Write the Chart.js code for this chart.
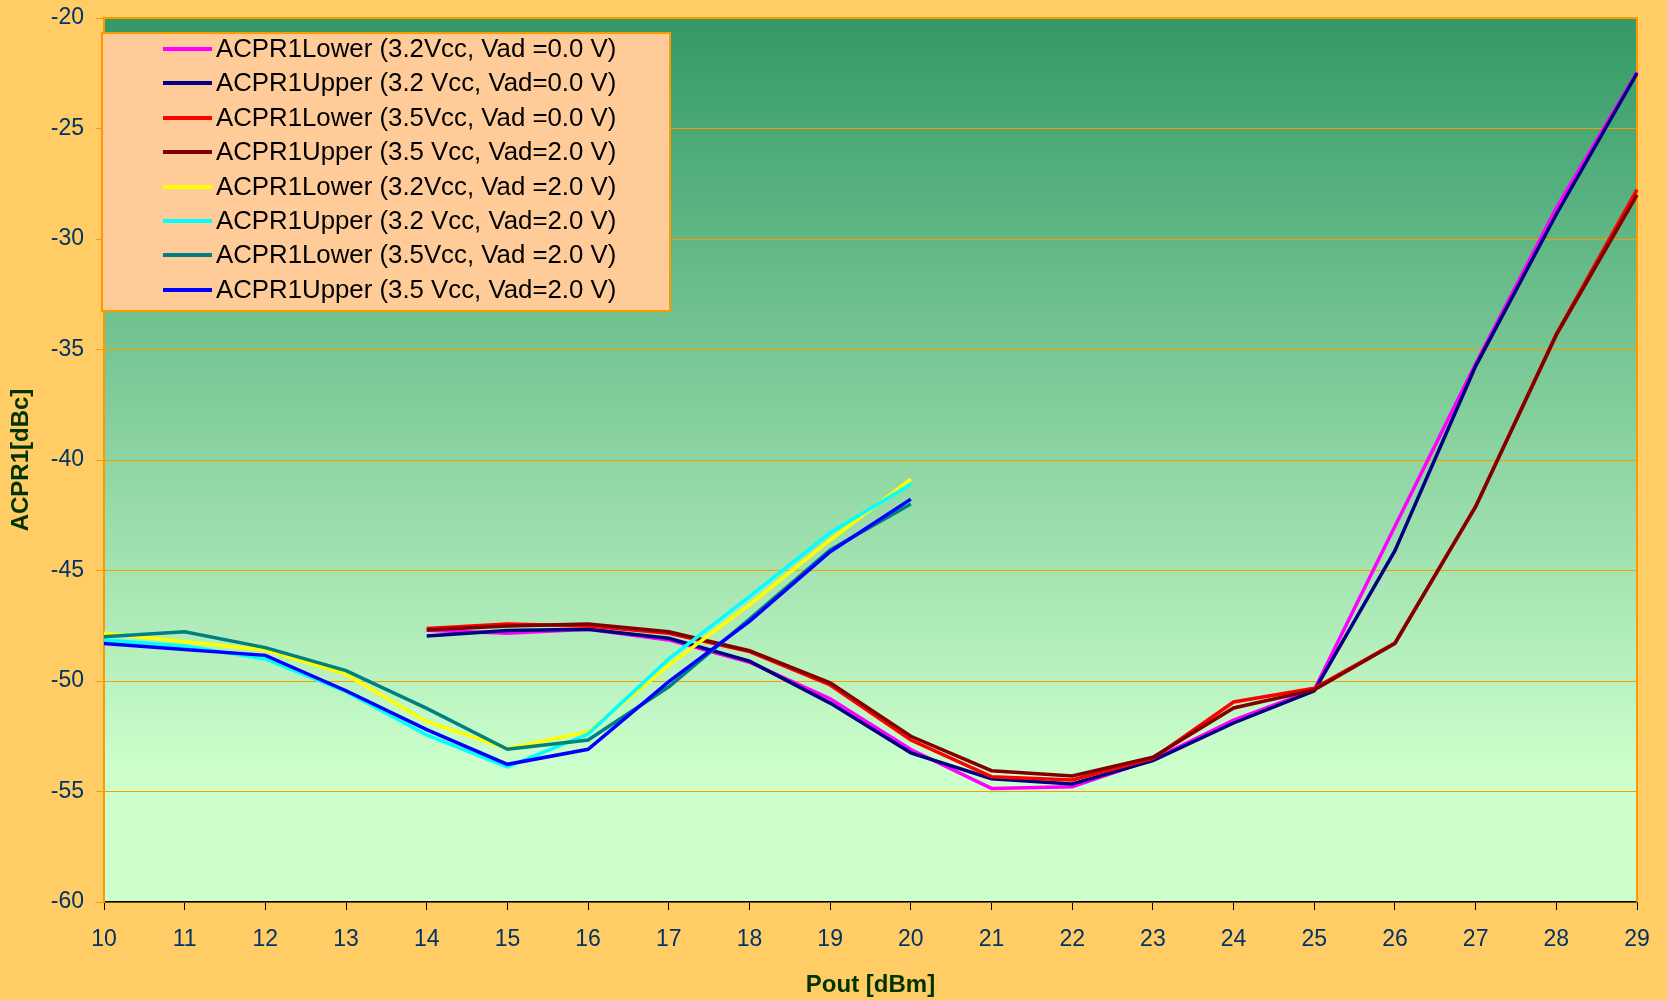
<!DOCTYPE html>
<html>
<head>
<meta charset="utf-8">
<title>ACPR1 vs Pout</title>
<script src="https://cdn.jsdelivr.net/npm/chart.js@4"></script>
<style>
  html, body { margin: 0; padding: 0; background: #ffcc66; }
  #wrap { position: relative; width: 1667px; height: 1000px; }
  #legend {
    position: absolute; left: 101px; top: 32px; width: 566px; height: 276px;
    background: #ffcc99; border: 2px solid #ff9900;
    font-family: "Liberation Sans", Arial, sans-serif; font-size: 25.8px; color: #000;
  }
  .row { position: relative; height: 34.4px; }
  .row:first-child { margin-top: -3px; }
  .row .swatch { position: absolute; left: 60px; top: 16px; width: 49px; height: 4px; }
  .row .txt { position: absolute; left: 113px; top: 0; line-height: 34.4px; white-space: nowrap; }
</style>
</head>
<body>
<div id="wrap">
  <canvas id="acprChart" width="1667" height="1000"></canvas>
  <div id="legend"></div>
</div>
<script>
const pout = [10, 11, 12, 13, 14, 15, 16, 17, 18, 19, 20, 21, 22, 23, 24, 25, 26, 27, 28, 29];

const seriesNames = [
  "ACPR1Lower (3.2Vcc, Vad =0.0 V)",
  "ACPR1Upper (3.2 Vcc, Vad=0.0 V)",
  "ACPR1Lower (3.5Vcc, Vad =0.0 V)",
  "ACPR1Upper (3.5 Vcc, Vad=2.0 V)",
  "ACPR1Lower (3.2Vcc, Vad =2.0 V)",
  "ACPR1Upper (3.2 Vcc, Vad=2.0 V)",
  "ACPR1Lower (3.5Vcc, Vad =2.0 V)",
  "ACPR1Upper (3.5 Vcc, Vad=2.0 V)",
];
const seriesColors = ["#ff00ff", "#000080", "#ff0000", "#800000", "#ffff00", "#00ffff", "#008080", "#0000ff"];

// Pout 10..29, null where not measured
const lower32Vad0 = [null, null, null, null, -47.7, -47.84, -47.66, -48.14, -49.15, -50.8, -53.1, -54.86, -54.78, -53.55, -51.77, -50.4, -43.0, -35.65, -28.6, -22.45];
const upper32Vad0 = [null, null, null, null, -47.96, -47.72, -47.66, -48.07, -49.1, -51.0, -53.25, -54.42, -54.66, -53.6, -51.9, -50.45, -44.1, -35.75, -28.88, -22.5];
const lower35Vad0 = [null, null, null, null, -47.62, -47.42, -47.51, -47.84, -48.67, -50.18, -52.67, -54.33, -54.48, -53.5, -50.95, -50.33, -48.28, -42.1, -34.3, -27.77];
const upper35Vad2b = [null, null, null, null, -47.69, -47.51, -47.42, -47.77, -48.63, -50.08, -52.5, -54.06, -54.3, -53.45, -51.22, -50.4, -48.3, -42.11, -34.34, -28.0];
const lower32Vad2 = [-47.84, -48.22, -48.6, -49.7, -51.84, -53.05, -52.3, -49.28, -46.56, -43.62, -40.87, null, null, null, null, null, null, null, null, null];
const upper32Vad2 = [-48.14, -48.42, -49.0, -50.48, -52.44, -53.88, -52.4, -49.0, -46.18, -43.29, -41.1, null, null, null, null, null, null, null, null, null];
const lower35Vad2 = [-48.0, -47.77, -48.49, -49.53, -51.24, -53.09, -52.67, -50.26, -47.2, -44.07, -41.99, null, null, null, null, null, null, null, null, null];
const upper35Vad2 = [-48.3, -48.57, -48.84, -50.44, -52.2, -53.77, -53.09, -50.03, -47.3, -44.15, -41.77, null, null, null, null, null, null, null, null, null];

const seriesValues = [lower32Vad0, upper32Vad0, lower35Vad0, upper35Vad2b, lower32Vad2, upper32Vad2, lower35Vad2, upper35Vad2];

const FONT = "'Liberation Sans', Arial, sans-serif";

// gradient plot background plus orange frame, like the spreadsheet original
const plotBackground = {
  id: "plotBackground",
  beforeDraw(chart) {
    const { ctx, chartArea: a } = chart;
    const grad = ctx.createLinearGradient(0, a.top, 0, a.bottom);
    grad.addColorStop(0, "#339966");
    grad.addColorStop(0.85, "#ccffcc");
    grad.addColorStop(1, "#ccffcc");
    ctx.save();
    ctx.fillStyle = grad;
    ctx.fillRect(a.left, a.top, a.right - a.left, a.bottom - a.top);
    ctx.restore();
  },
  beforeDatasetsDraw(chart) {
    const { ctx, chartArea: a } = chart;
    ctx.save();
    ctx.strokeStyle = "#ff9900";
    ctx.lineWidth = 2;
    ctx.beginPath();
    ctx.moveTo(a.left, a.top);
    ctx.lineTo(a.right, a.top);
    ctx.lineTo(a.right, a.bottom);
    ctx.stroke();
    ctx.restore();
  },
};

function renderLegend(chart) {
  const box = document.getElementById("legend");
  box.innerHTML = chart.data.datasets
    .map(
      (ds) => `
    <div class="row">
      <span class="swatch" style="background:${ds.borderColor}"></span>
      <span class="txt">${ds.label}</span>
    </div>`
    )
    .join("");
}

const chart = new Chart(document.getElementById("acprChart"), {
  type: "line",
  data: {
    labels: pout,
    datasets: seriesNames.map((name, i) => ({
      label: name,
      data: seriesValues[i],
      borderColor: seriesColors[i],
      backgroundColor: seriesColors[i],
      borderWidth: 3.5,
      pointRadius: 0,
      tension: 0,
      fill: false,
      // later series drawn on top
      order: seriesNames.length - i,
    })),
  },
  options: {
    responsive: false,
    devicePixelRatio: 1,
    animation: false,
    layout: { padding: { left: 0, top: 18, right: 30, bottom: 0 } },
    plugins: { legend: { display: false }, tooltip: { enabled: false } },
    scales: {
      x: {
        type: "category",
        offset: false,
        afterFit: (scale) => { scale.height = 98; },
        grid: { drawOnChartArea: false, color: "#000", tickLength: 8 },
        border: { color: "#000", width: 1.5 },
        ticks: { color: "#003366", font: { family: FONT, size: 23 }, padding: 16, maxRotation: 0, autoSkip: false },
        title: {
          display: true,
          text: "Pout [dBm]",
          color: "#003300",
          font: { family: FONT, size: 24, weight: "bold" },
          padding: { top: 0, bottom: 0 },
        },
      },
      y: {
        min: -60,
        max: -20,
        afterFit: (scale) => {
          scale.width = 104;
          scale.paddingTop = 0;
          scale.paddingBottom = 0;
        },
        grid: { color: "#ff9900", lineWidth: 1, tickLength: 8 },
        border: { color: "#ff9900", width: 2 },
        ticks: { stepSize: 5, color: "#003366", font: { family: FONT, size: 23 }, padding: 12 },
        title: {
          display: true,
          text: "ACPR1[dBc]",
          color: "#003300",
          font: { family: FONT, size: 24, weight: "bold" },
          padding: { top: 7, bottom: 0 },
        },
      },
    },
  },
  plugins: [plotBackground],
});

renderLegend(chart);
</script>
</body>
</html>
